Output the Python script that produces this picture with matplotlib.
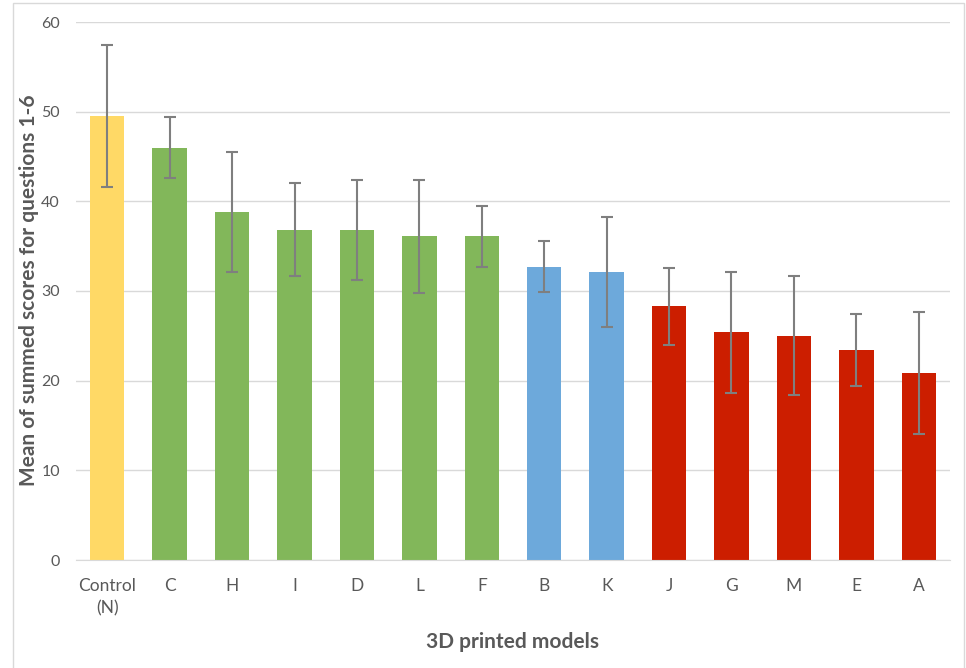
import matplotlib.pyplot as plt
from matplotlib.patches import Rectangle

models = ["Control\n(N)", "C", "H", "I", "D", "L", "F", "B", "K", "J", "G", "M", "E", "A"]
means = [49.5, 46.0, 38.8, 36.85, 36.8, 36.1, 36.1, 32.7, 32.1, 28.3, 25.4, 25.0, 23.4, 20.85]
errs = [7.9, 3.45, 6.7, 5.2, 5.6, 6.3, 3.4, 2.85, 6.1, 4.3, 6.75, 6.65, 4.0, 6.85]
groups = ["control", "good", "good", "good", "good", "good", "good",
          "mid", "mid", "bad", "bad", "bad", "bad", "bad"]

palette = {"control": "#FFD966", "good": "#82B75A", "mid": "#6DA9DB", "bad": "#CC1E00"}
colors = [palette[g] for g in groups]

plt.rcParams['font.family'] = ['Lato', 'DejaVu Sans']
txt = "#595959"

fig = plt.figure(figsize=(9.66, 6.68), dpi=100)
ax = fig.add_axes([76/966, 1-560/668, 874/966, 538/668])

x = range(len(models))
ax.bar(x, means, width=0.55, color=colors, zorder=2,
       yerr=errs, capsize=4, error_kw=dict(ecolor="#7F7F7F", elinewidth=1.5, capthick=1.5))

ax.set_xlim(-0.5, len(models) - 0.5)
ax.set_ylim(0, 60)
ax.set_yticks(range(0, 61, 10))
ax.set_xticks(list(x))
ax.set_xticklabels(models, color=txt, fontsize=12.5, linespacing=1.5)
ax.tick_params(axis="y", colors=txt, labelsize=11.5, length=0, pad=11.5)
ax.tick_params(axis="x", length=0, pad=13)
ax.grid(axis="y", color="#D9D9D9", linewidth=1, zorder=0)
for s in ["left", "right", "top"]:
    ax.spines[s].set_visible(False)
ax.spines["bottom"].set_color("#D9D9D9")

ax.set_ylabel("Mean of summed scores for questions 1-6", fontsize=15,
              fontweight="bold", color=txt)
ax.yaxis.set_label_coords((39 - 76) / 874, (560 - 290) / 538)
ax.set_xlabel("3D printed models", fontsize=15, fontweight="bold", color=txt)
ax.xaxis.set_label_coords(0.5, -(632 - 560) / 538)

fig.patches.append(Rectangle((13/966, -0.01), 951/966, 1 - 3/668 + 0.01,
                             transform=fig.transFigure, fill=False,
                             edgecolor="#D9D9D9", linewidth=1))

fig.savefig("out.png", dpi=100)
